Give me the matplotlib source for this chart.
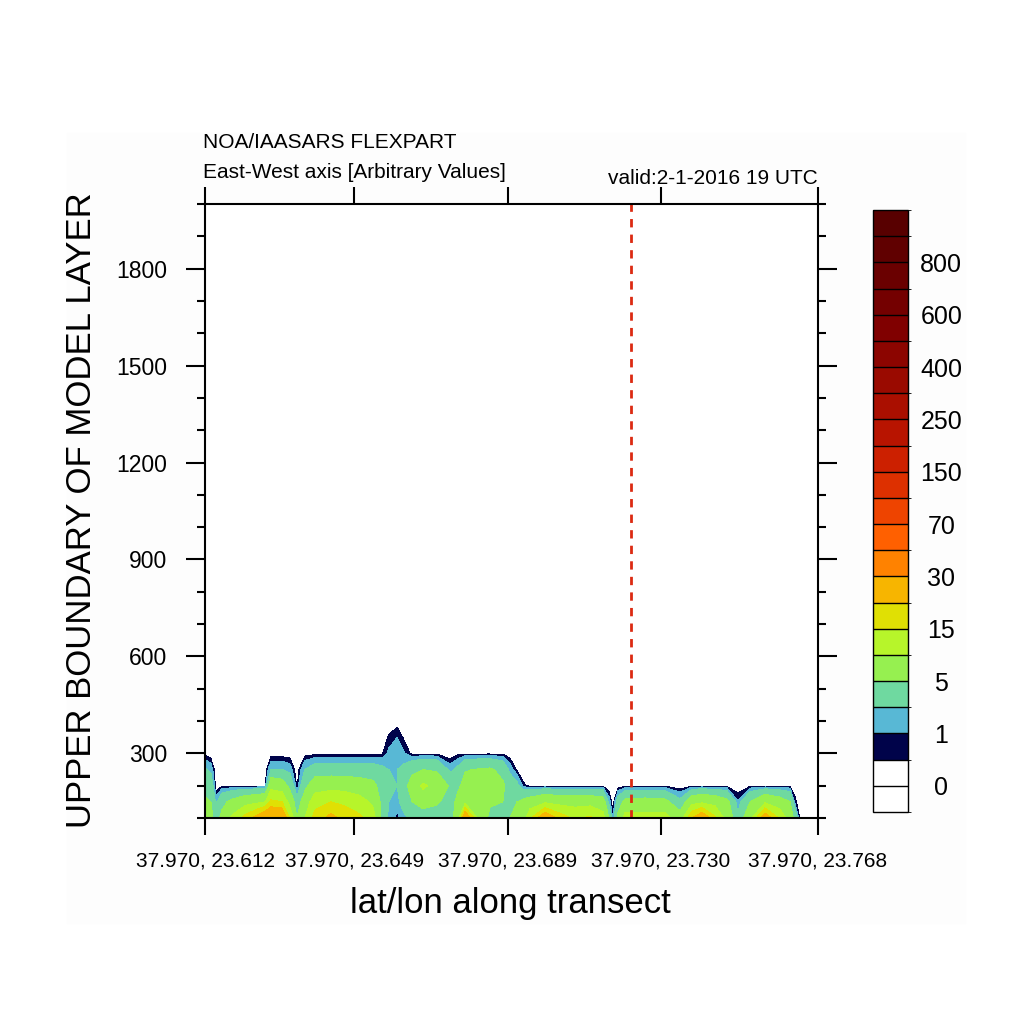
import numpy as np
import matplotlib
matplotlib.use("Agg")
import matplotlib.pyplot as plt
from matplotlib.colors import ListedColormap, BoundaryNorm
from matplotlib.patches import Rectangle
from matplotlib.ticker import MultipleLocator
import matplotlib.colorbar as mcolorbar

plt.rcParams['font.family'] = ['Liberation Sans', 'DejaVu Sans']

# transect columns (longitude) and model layer heights
lons = [23.6120, 23.6135, 23.6148, 23.6163, 23.6189, 23.6222, 23.6255, 23.6273, 23.6288, 23.6316,
        23.6336, 23.6354, 23.6374, 23.6400, 23.6441, 23.6476, 23.6514, 23.6548, 23.6570, 23.6588,
        23.6609, 23.6626, 23.6647, 23.6675, 23.6710, 23.6744, 23.6764, 23.6782, 23.6815, 23.6845,
        23.6878, 23.6896, 23.6914, 23.6932, 23.6947, 23.6985, 23.7023, 23.7062, 23.7100, 23.7133,
        23.7148, 23.7158, 23.7171, 23.7189, 23.7240, 23.7291, 23.7329, 23.7359, 23.7385, 23.7418,
        23.7448, 23.7476, 23.7507, 23.7545, 23.7583, 23.7609, 23.7621, 23.7632, 23.7647, 23.7680]
heights = [100, 150, 200, 250, 300, 350, 400]

# concentration at each layer along the transect (arbitrary values)
conc_100 = [7, 6, 3.5, 6, 11, 17, 23, 27, 29, 28, 15, 5, 10, 17, 22, 18, 16, 12, 4, 1.5,
            0.7, 1.5, 2.5, 3, 3, 3, 8, 28, 9, 4, 4, 5, 6, 8, 14, 26, 18, 14, 16, 12,
            5, 0.8, 6, 12, 12, 12, 7, 20, 26, 16, 8, 2.5, 8, 25, 14, 7, 4, 0.6, 0, 0]
conc_150 = [5.5, 5, 1.6, 4, 6, 8, 9, 10, 16, 15, 8, 3, 7, 13, 15, 14, 12, 9, 4, 2,
            1.5, 3, 5, 6.5, 5.5, 3.5, 6, 8, 6.5, 5.5, 5, 4.5, 5, 6, 7, 9, 8, 8, 8, 7,
            1.5, 0, 3, 6, 6.5, 6, 2.5, 8, 9, 8, 6, 1.1, 5, 9, 7, 5, 0.8, 0, 0, 0]
conc_200 = [4, 3.5, 0, 0.3, 0.3, 0.3, 0.3, 0.3, 8, 7, 4, 0.3, 4, 7.5, 8, 7.8, 7, 6, 3.5, 2.5,
            2, 3.5, 7, 11, 8, 4.5, 4.5, 6, 6, 6, 5.5, 3.5, 2.5, 0.6, 0.3, 0.3, 0.3, 0.3, 0.3, 0.3,
            0, 0, 0.1, 0.3, 0.3, 0.3, 0, 0.3, 0.3, 0.3, 0.3, 0, 0.3, 0.3, 0.3, 0.3, 0, 0, 0, 0]
conc_250 = [2.2, 1.6, 0, 0, 0, 0, 0, 0, 2.0, 2.0, 1.5, 0, 2, 3, 3, 3, 3, 3, 2.5, 2,
            2, 2.5, 4, 5, 4.5, 1.5, 2.5, 4.8, 5.2, 5.5, 4, 1.5, 0.4, 0, 0, 0, 0, 0, 0, 0,
            0, 0, 0, 0, 0, 0, 0, 0, 0, 0, 0, 0, 0, 0, 0, 0, 0, 0, 0, 0]
conc_300 = [0.3, 0, 0, 0, 0, 0, 0, 0, 0.1, 0.1, 0.1, 0, 0.2, 0.3, 0.3, 0.3, 0.3, 0.3, 0.4, 1.2,
            1.5, 1.1, 0.3, 0.3, 0.3, 0, 0.3, 0.3, 0.3, 0.3, 0.3, 0.1, 0, 0, 0, 0, 0, 0, 0, 0,
            0, 0, 0, 0, 0, 0, 0, 0, 0, 0, 0, 0, 0, 0, 0, 0, 0, 0, 0, 0]
conc_350 = [0] * 19 + [0.6, 1.0, 0.4] + [0] * 38
conc_400 = [0] * 20 + [0.2] + [0] * 39

# contour levels / colour table (first box is below 0)
bounds = [-1, 0, 0.5, 1, 2, 5, 10, 15, 20, 30, 50, 70, 100, 150, 200, 250, 300,
          400, 500, 600, 700, 800, 900, 1000]
box_colors = ['#ffffff', '#ffffff', '#00034a', '#58b8d5', '#6fd9a0', '#96f050', '#b7f52a',
              '#e0e004', '#f7b500', '#ff8200', '#ff6000', '#ee4400', '#dd3000', '#cc2000',
              '#b81400', '#aa0f00', '#9a0a00', '#8c0500', '#800000', '#740000', '#6a0000',
              '#600000', '#580000']
cbar_ticks = [0, 1, 5, 15, 30, 70, 150, 250, 400, 600, 800]

xtick_pos = [23.612, 23.650, 23.689, 23.728, 23.768]
xtick_labels = ["37.970, 23.612", "37.970, 23.649", "37.970, 23.689",
                "37.970, 23.730", "37.970, 23.768"]
transect_mark = 23.7204

conc = np.array([conc_100, conc_150, conc_200, conc_250, conc_300, conc_350, conc_400])

fig = plt.figure(figsize=(10.24, 10.24), dpi=100)
fig.add_artist(Rectangle((67 / 1024, 1 - 923 / 1024), 898 / 1024, 790 / 1024,
                         transform=fig.transFigure, color='#fdfdfd', zorder=0))

ax = fig.add_axes([205 / 1024, 206 / 1024, 613 / 1024, 614 / 1024])
ax.contourf(lons, heights, conc, levels=bounds[2:], colors=box_colors[2:])
ax.axvline(transect_mark, color='#dc2a12', lw=2, dashes=(3.0, 2.6))

ax.set_xlim(23.612, 23.768)
ax.set_ylim(100, 2000)
ax.set_xticks(xtick_pos)
ax.set_xticklabels(xtick_labels, fontsize=15)
ax.set_yticks([300, 600, 900, 1200, 1500, 1800])
ax.yaxis.set_minor_locator(MultipleLocator(100))
ax.tick_params(axis='y', which='major', direction='out', length=14, width=1.5,
               labelsize=16.5, pad=13, right=True)
ax.tick_params(axis='y', which='minor', direction='out', length=6, width=1.5, right=True)
ax.tick_params(axis='x', which='major', direction='out', length=12, width=1.5,
               pad=12, top=True)
for sp in ax.spines.values():
    sp.set_linewidth(1.5)

fig.text(203 / 1024, 1 - 142 / 1024, "NOA/IAASARS FLEXPART", fontsize=15,
         ha='left', va='center')
fig.text(203 / 1024, 1 - 173 / 1024, "East-West axis [Arbitrary Values]", fontsize=15,
         ha='left', va='center')
fig.text(818 / 1024, 1 - 178 / 1024, "valid:2-1-2016 19 UTC", fontsize=15,
         ha='right', va='center')
fig.text(82 / 1024, 1 - 510 / 1024, "UPPER BOUNDARY OF MODEL LAYER", fontsize=25,
         rotation=90, ha='center', va='center')
fig.text(510 / 1024, 1 - 904 / 1024, "lat/lon along transect", fontsize=25,
         ha='center', va='center')

# label bar
cax = fig.add_axes([873 / 1024, 212 / 1024, 35 / 1024, 602 / 1024])
cmap = ListedColormap(box_colors)
norm = BoundaryNorm(bounds, cmap.N)
cb = mcolorbar.ColorbarBase(cax, cmap=cmap, norm=norm, boundaries=bounds,
                            spacing='uniform', ticks=cbar_ticks, drawedges=True)
cb.outline.set_linewidth(1.0)
cb.dividers.set_linewidth(1.0)
cb.ax.set_yticklabels([str(t) for t in cbar_ticks])
cax.tick_params(length=0, labelsize=18, pad=24)
for lab in cax.get_yticklabels():
    lab.set_horizontalalignment('center')

fig.savefig("out.png", dpi=100)
